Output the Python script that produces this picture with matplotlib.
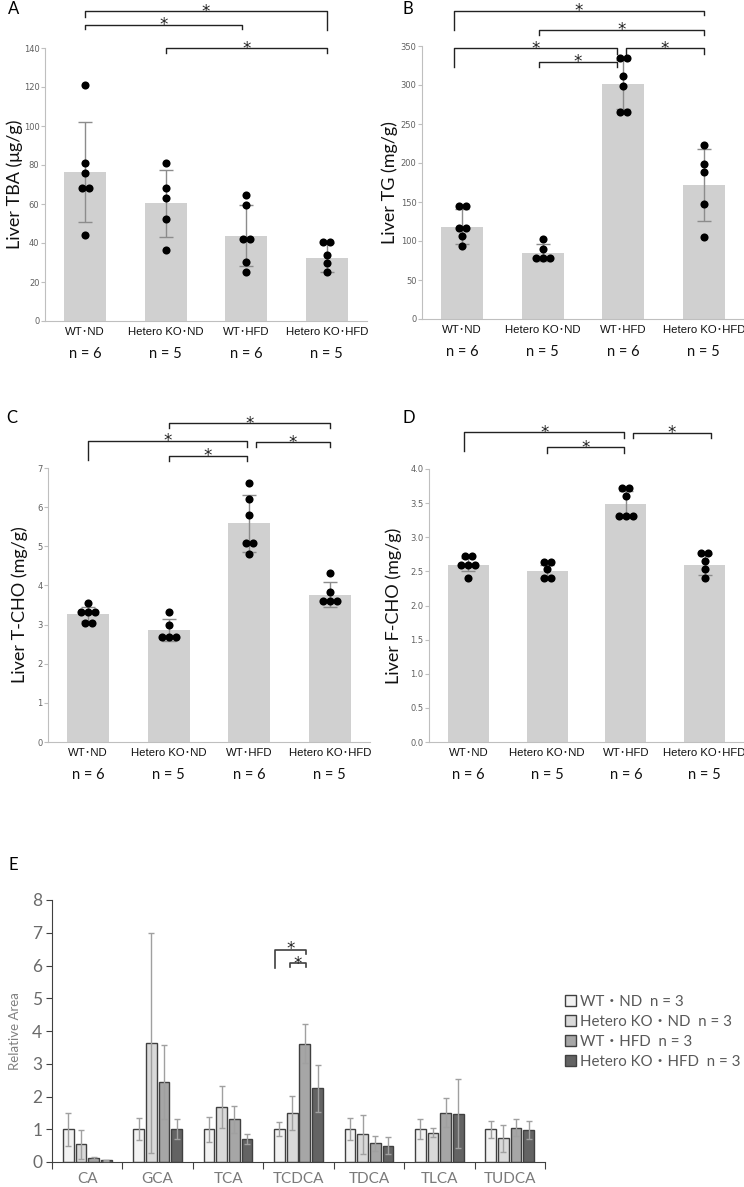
import numpy as np
import matplotlib.pyplot as plt
from matplotlib.patches import Patch

# ---- data ----
groups = ['WT･ND', 'Hetero KO･ND', 'WT･HFD', 'Hetero KO･HFD']
n_labels = ['n = 6', 'n = 5', 'n = 6', 'n = 5']

tba_mean = [76.3, 60.3, 43.7, 32.4]
tba_sd = [25.5, 17.0, 15.7, 7.5]
tba_pts = [[121, 81, 76, 68, 68, 44], [81, 68, 63, 52.5, 36.5],
           [64.5, 59.6, 42, 42, 30.4, 25], [40.5, 40.5, 33.8, 29.5, 25]]

tg_mean = [118.5, 85, 301, 171.5]
tg_sd = [22, 11, 31.5, 46]
tg_pts = [[145, 145, 117, 117, 106, 93], [102, 90, 78, 78, 78],
          [334, 334, 311, 299, 265, 265], [223, 199, 188, 148, 105]]

tcho_mean = [3.26, 2.85, 5.59, 3.76]
tcho_sd = [0.18, 0.28, 0.73, 0.32]
tcho_pts = [[3.56, 3.33, 3.33, 3.33, 3.05, 3.05], [3.31, 3.0, 2.67, 2.67, 2.67],
            [6.61, 6.21, 5.80, 5.08, 5.08, 4.81], [4.31, 3.82, 3.61, 3.61, 3.61]]

fcho_mean = [2.60, 2.50, 3.48, 2.60]
fcho_sd = [0.10, 0.10, 0.20, 0.155]
fcho_pts = [[2.73, 2.73, 2.60, 2.60, 2.60, 2.40], [2.64, 2.64, 2.53, 2.40, 2.40],
            [3.72, 3.72, 3.60, 3.31, 3.31, 3.31], [2.77, 2.77, 2.65, 2.54, 2.40]]

bile_acids = ['CA', 'GCA', 'TCA', 'TCDCA', 'TDCA', 'TLCA', 'TUDCA']
e_labels = ['WT・ND  n = 3', 'Hetero KO・ND  n = 3', 'WT・HFD  n = 3', 'Hetero KO・HFD  n = 3']
e_means = [
    [1, 1, 1, 1, 1, 1, 1],
    [0.54, 3.62, 1.68, 1.50, 0.84, 0.89, 0.73],
    [0.12, 2.43, 1.30, 3.61, 0.57, 1.51, 1.05],
    [0.05, 1.00, 0.70, 2.25, 0.50, 1.48, 0.98],
]
e_sds = [
    [0.51, 0.33, 0.38, 0.22, 0.33, 0.30, 0.26],
    [0.45, 3.36, 0.64, 0.52, 0.61, 0.14, 0.41],
    [0.03, 1.13, 0.40, 0.60, 0.23, 0.43, 0.27],
    [0.02, 0.31, 0.16, 0.72, 0.27, 1.06, 0.28],
]

W, H = 744, 1187
fig = plt.figure(figsize=(W / 100, H / 100), dpi=100)

CAT_FONT = ['Liberation Sans', 'Noto Sans CJK JP']
LBL_FONT = ['Lato', 'DejaVu Sans']
JP_FONT = ['Lato', 'Noto Sans CJK JP']


def px_axes(left, top, right, bottom):
    return fig.add_axes([left / W, 1 - bottom / H, (right - left) / W, (bottom - top) / H])


def star(ax, x, y, dy=-4):
    ax.annotate('*', (x, y), xytext=(0, dy), textcoords='offset points',
                ha='center', va='baseline', fontsize=12, color='#222222', annotation_clip=False)


def bracket(ax, x1, x2, y, y1, y2):
    ax.plot([x1, x1, x2, x2], [y1, y, y, y2], color='#222222', lw=1.0, clip_on=False)
    star(ax, (x1 + x2) / 2, y)


def dot_panel(rect, means, sds, pts, ylim, yticks, fmt, ylabel, label_x, letter, letter_xy, brackets):
    ax = px_axes(*rect)
    x = np.arange(len(groups))
    ax.bar(x, means, width=0.52, color='#d0d0d0', zorder=1)
    ax.errorbar(x, means, yerr=sds, fmt='none', ecolor='#8c8c8c', elinewidth=1,
                capsize=5, capthick=1, zorder=2)
    for i, vals in enumerate(pts):
        vals = np.array(vals, dtype=float)
        for v in np.unique(vals):
            k = int(np.sum(vals == v))
            offs = (np.arange(k) - (k - 1) / 2) * 0.09
            ax.scatter(i + offs, [v] * k, s=34, color='black', zorder=3, linewidths=0)
    ax.set_xlim(-0.5, 3.5)
    ax.set_ylim(*ylim)
    ax.set_yticks(yticks)
    ax.set_yticklabels([fmt.format(t) for t in yticks], fontsize=6, color='#606060')
    ax.set_xticks(x)
    ax.set_xticklabels(groups, fontsize=8.2, family=CAT_FONT, color='#111111')
    ax.tick_params(axis='x', length=0, pad=4)
    ax.tick_params(axis='y', length=3, color='#bfbfbf', pad=1)
    for s in ['top', 'right']:
        ax.spines[s].set_visible(False)
    for s in ['left', 'bottom']:
        ax.spines[s].set_color('#bfbfbf')
        ax.spines[s].set_linewidth(0.8)
    for i, lab in enumerate(n_labels):
        ax.annotate(lab, (i, 0), xycoords=('data', 'axes fraction'), xytext=(0, -33),
                    textcoords='offset pixels', ha='center', va='center', fontsize=10.5,
                    family=LBL_FONT, color='#111111')
    ax.set_ylabel(ylabel, fontsize=13, family=LBL_FONT, color='#111111')
    # label right edge in figure pixels -> axes fraction
    ax.yaxis.set_label_coords((label_x - rect[0]) / (rect[2] - rect[0]), 0.5)
    fig.text(letter_xy[0] / W, 1 - letter_xy[1] / H, letter, fontsize=12, family=LBL_FONT,
             ha='left', va='center')
    for b in brackets:
        bracket(ax, *b)
    return ax


dot_panel((45, 48, 367, 321), tba_mean, tba_sd, tba_pts, (0, 140), np.arange(0, 141, 20), '{:.0f}',
          'Liver TBA (μg/g)', 23, 'A', (8, 9),
          [(0, 3, 159, 156, 149), (0, 1.95, 152, 150, 150), (1, 3, 140, 137.5, 137.5)])

dot_panel((422, 46, 744, 319), tg_mean, tg_sd, tg_pts, (0, 350), np.arange(0, 351, 50), '{:.0f}',
          'Liver TG (mg/g)', 398, 'B', (402, 9),
          [(-0.1, 3, 395, 370, 390), (0.95, 3, 371, 364, 364), (-0.1, 1.92, 347, 323, 340),
           (2.03, 3, 347, 340, 340), (0.95, 1.92, 330, 323, 323)])

dot_panel((48, 468, 370, 742), tcho_mean, tcho_sd, tcho_pts, (0, 7), np.arange(0, 8, 1), '{:.0f}',
          'Liver T-CHO (mg/g)', 28, 'C', (6, 418),
          [(1, 3, 8.15, 8.03, 8.03), (0, 1.97, 7.70, 7.21, 7.54), (2.08, 3, 7.66, 7.54, 7.54),
           (1, 1.97, 7.31, 7.19, 7.19)])

dot_panel((429, 469, 744, 742), fcho_mean, fcho_sd, fcho_pts, (0, 4), np.arange(0, 4.01, 0.5), '{:.1f}',
          'Liver F-CHO (mg/g)', 402, 'D', (402, 418),
          [(-0.05, 1.98, 4.54, 4.27, 4.46), (2.09, 3.08, 4.53, 4.46, 4.46), (1, 1.98, 4.32, 4.24, 4.24)])

# ---- panel E ----
axe = px_axes(52, 900, 545, 1162)
e_colors = ['#f2f2f2', '#d9d9d9', '#a6a6a6', '#636363']
offsets = [-0.27, -0.09, 0.09, 0.27]
xc = np.arange(len(bile_acids)) + 0.5
for k in range(4):
    axe.bar(xc + offsets[k], e_means[k], width=0.152, color=e_colors[k], edgecolor='#404040',
            linewidth=1, zorder=2)
    axe.errorbar(xc + offsets[k], e_means[k], yerr=e_sds[k], fmt='none', ecolor='#a0a0a0',
                 elinewidth=1, capsize=2.5, capthick=1, zorder=3)
axe.set_xlim(0, 7)
axe.set_ylim(0, 8)
axe.set_yticks(range(0, 9))
axe.set_yticklabels([str(v) for v in range(0, 9)], fontsize=12.5, family=LBL_FONT, color='#6a6a6a')
axe.set_xticks(range(0, 8))
axe.set_xticklabels([])
axe.set_xticks(xc, minor=True)
axe.set_xticklabels(bile_acids, minor=True, fontsize=11, family=LBL_FONT, color='#7a7a7a')
axe.tick_params(axis='x', which='major', length=5, color='#404040', direction='out')
axe.tick_params(axis='x', which='minor', length=0, pad=7)
axe.tick_params(axis='y', length=4, color='#404040', pad=3)
for s in ['top', 'right']:
    axe.spines[s].set_visible(False)
for s in ['left', 'bottom']:
    axe.spines[s].set_color('#404040')
axe.set_ylabel('Relative Area', fontsize=9.5, family=LBL_FONT, color='#808080', labelpad=8)
fig.text(8 / W, 1 - 865 / H, 'E', fontsize=12, family=LBL_FONT, ha='left', va='center')

# significance in TCDCA
axe.plot([3.16, 3.16, 3.61, 3.61], [5.91, 6.47, 6.47, 6.35], color='#404040', lw=1.2)
axe.plot([3.38, 3.38, 3.60, 3.60], [5.94, 6.09, 6.09, 5.94], color='#404040', lw=1.2)
star(axe, (3.16 + 3.61) / 2, 6.47, dy=-3)
star(axe, (3.38 + 3.60) / 2, 6.09, dy=-5)

handles = [Patch(facecolor=c, edgecolor='#404040', linewidth=1) for c in e_colors]
leg = fig.legend(handles, e_labels, loc='upper left', bbox_to_anchor=(554 / W, 1 - 984 / H),
                 frameon=False, handlelength=0.75, handleheight=0.75, handletextpad=0.3,
                 labelspacing=0.4, borderpad=0.2, prop={'family': JP_FONT, 'size': 10.8})
for t in leg.get_texts():
    t.set_color('#595959')

fig.savefig('out.png', dpi=100)
